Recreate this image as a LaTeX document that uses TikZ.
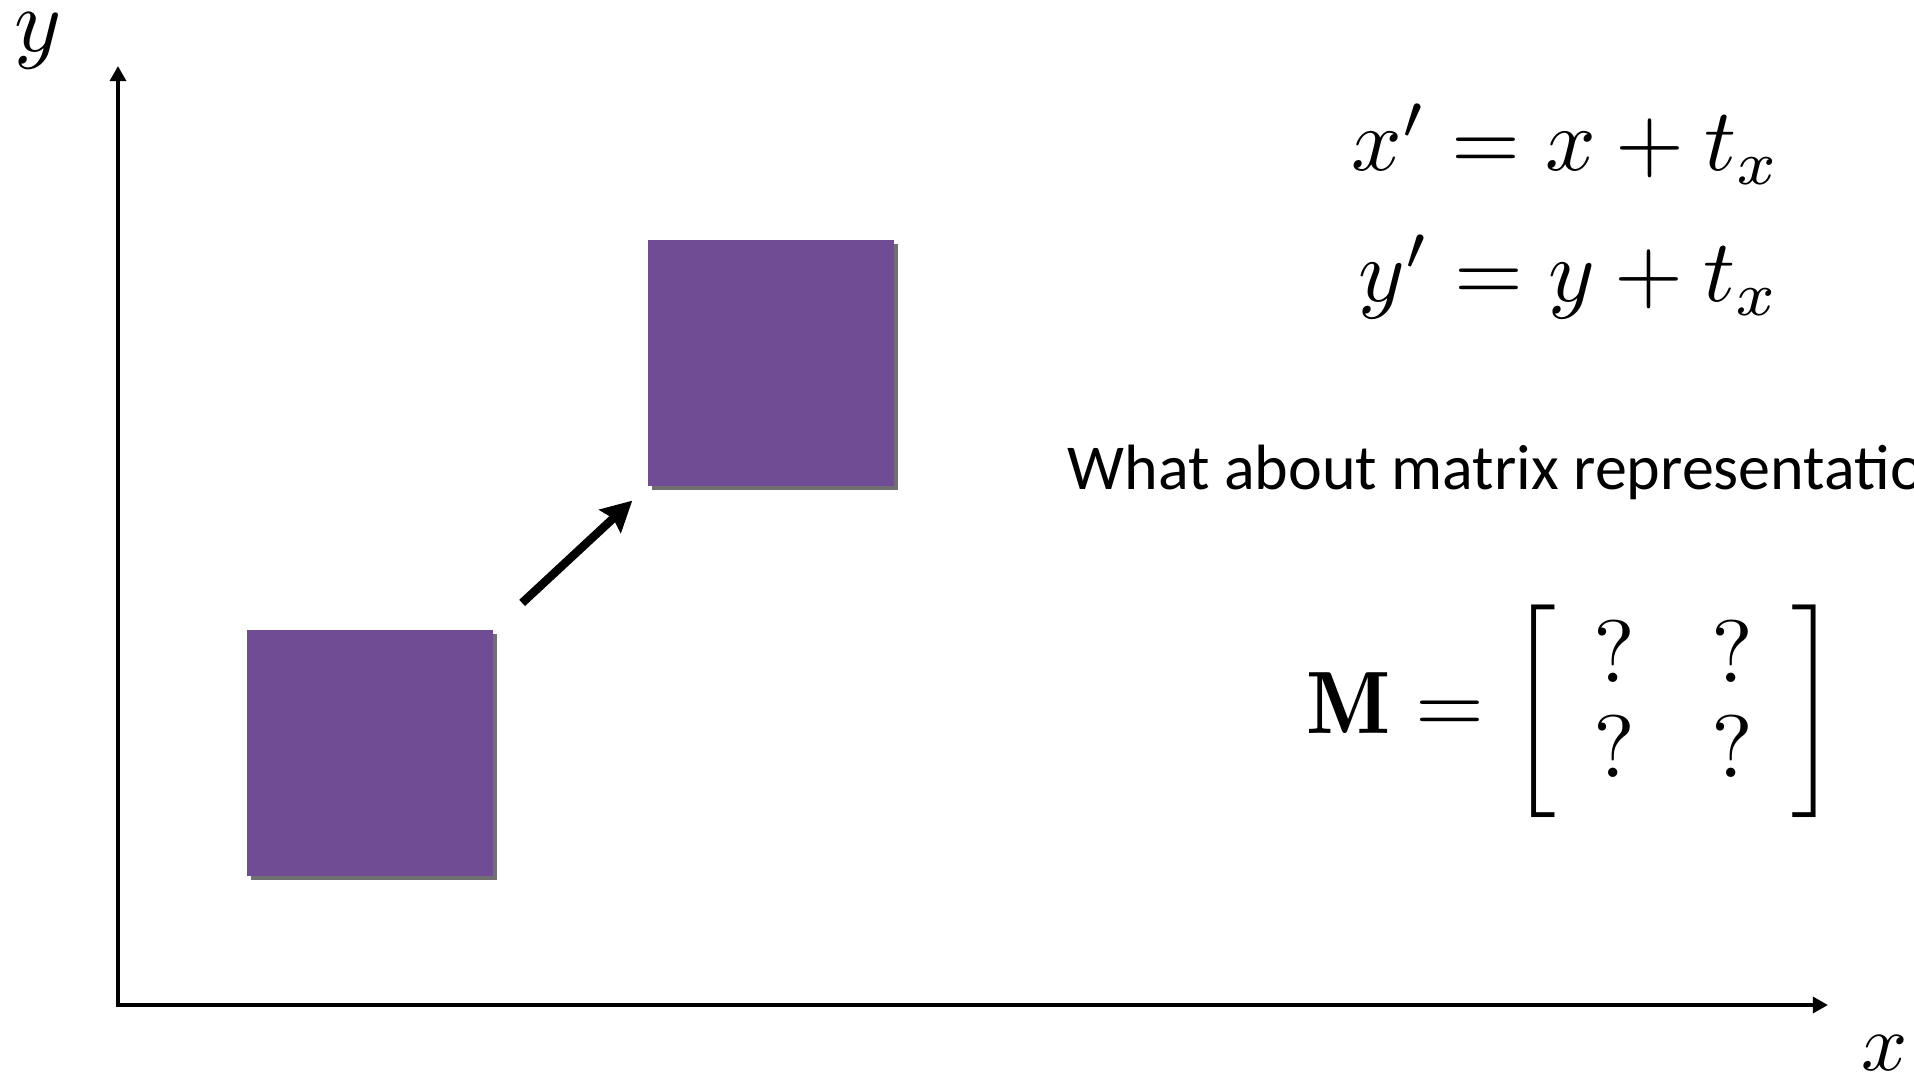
\documentclass[tikz,border=0pt]{standalone}
\usepackage{amsmath}
\usepackage{graphicx}
\usepackage{fontspec}
\usetikzlibrary{arrows.meta,shadows}
\newfontfamily\slidefont{Carlito}
\definecolor{tilepurple}{RGB}{112,76,148}

\begin{document}
\begin{tikzpicture}[x=0.01cm,y=-0.01cm,
  tile/.style={fill=tilepurple,minimum size=2.46cm,inner sep=0pt,
    drop shadow={shadow xshift=1.1pt,shadow yshift=-1.1pt,opacity=0.75,fill=black!75}},
  axis/.style={line width=1.3pt,{Triangle[length=4.3pt,width=4.5pt]}-{Triangle[length=4.3pt,width=4.5pt]}},
  eq/.style={inner sep=0pt,anchor=base west}]
\useasboundingbox (0,0) rectangle (1914,1082);
\clip (0,0) rectangle (1914,1082);
\coordinate (origin) at (118,1005);
\coordinate (ytip) at (118,66);
\coordinate (xtip) at (1828,1005);
\draw[axis] (ytip) -- (origin) -- (xtip);
\node[inner sep=0pt] (ylab) at (38,41) {\scalebox{2.55}{$y$}};
\node[inner sep=0pt] (xlab) at (1885,1053) {\scalebox{2.3}{$x$}};
\node[tile] (start) at (370,753) {};
\node[tile] (moved) at (771,363) {};
\draw[line width=2.4pt,-{Stealth[length=8.6pt,width=8.9pt,inset=1.2pt]},shorten <=11pt,shorten >=5.8pt] (start.north east) -- (moved.south west);
\node[eq] (eqx) at (1351,171) {\scalebox{2.52}{$x' = x + t_x$}};
\node[eq] (eqy) at (1358,302) {\scalebox{2.52}{$y' = y + t_x$}};
\node[inner sep=0pt,anchor=base west,font=\slidefont\fontsize{18.2}{22}\selectfont] (question) at (1067,489) {What about matrix representatio};
\node[inner sep=0pt,anchor=west] (matM) at (1306,711) {\scalebox{2.52}{\setlength{\arraycolsep}{4.3pt}\renewcommand{\arraystretch}{0.9}$\mathbf{M} = \left[\begin{array}{cc} ? & ? \\ ? & ? \end{array}\right]$}};
\end{tikzpicture}
\end{document}
